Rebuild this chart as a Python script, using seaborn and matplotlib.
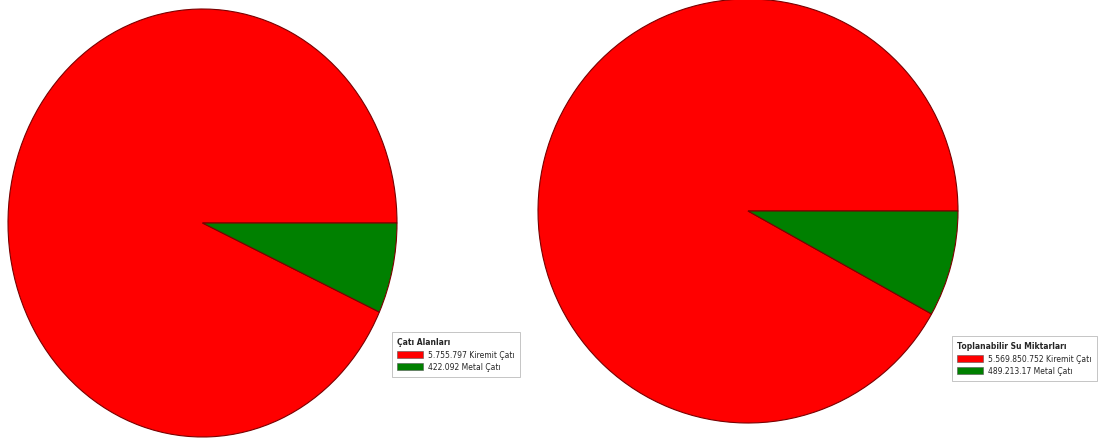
import matplotlib
matplotlib.use("Agg")
import matplotlib.pyplot as plt
import matplotlib.patches as mpatches
import seaborn as sns

sns.set_theme(style="white")
plt.rcParams['font.family'] = ['DejaVu Sans']

# data
categories = ['Kiremit Çatı', 'Metal Çatı']
roof_area = [5755797, 422092]
roof_area_labels = ['5.755.797', '422.092']
water = [5569850.752, 489213.17]
water_labels = ['5.569.850.752', '489.213.17']
colors = ['#ff0000', '#008000']

fig = plt.figure(figsize=(11.03, 4.39), dpi=100)
fig.patch.set_facecolor('white')

W, H = 1103, 439


def pie_axes(x0, x1, y0, y1):
    # pixel box (top-left origin) -> figure axes
    return fig.add_axes([x0 / W, 1 - y1 / H, (x1 - x0) / W, (y1 - y0) / H])


def draw(ax, vals, title, labels, anchor):
    ax.pie(vals, colors=colors, startangle=0, counterclock=True,
           wedgeprops=dict(edgecolor='#7a0000', linewidth=0.8))
    ax.set_aspect('auto')
    ax.set_xlim(-1.0, 1.0)
    ax.set_ylim(-1.0, 1.0)
    ax.axis('off')
    handles = [mpatches.Patch(facecolor=c, edgecolor='#555555', linewidth=0.4)
               for c in colors]
    texts = [f'{l} {c}' for l, c in zip(labels, categories)]
    leg = fig.legend(handles, texts, title=title, loc='upper left',
                     bbox_to_anchor=anchor, fontsize=5.5, title_fontsize=5.5,
                     frameon=True, fancybox=False, handlelength=3.4,
                     handleheight=1.1, borderpad=0.7, labelspacing=0.45,
                     handletextpad=0.6, borderaxespad=0, alignment='left')
    leg.get_title().set_fontweight('bold')
    leg.get_frame().set_edgecolor('#aaaaaa')
    leg.get_frame().set_linewidth(0.6)


ax1 = pie_axes(8, 397, 10, 438)
draw(ax1, roof_area, 'Çatı Alanları', roof_area_labels,
     (392 / W, 1 - 333 / H))

ax2 = pie_axes(538, 958, 0, 424)
draw(ax2, water, 'Toplanabilir Su Miktarları', water_labels,
     (952 / W, 1 - 337 / H))

fig.savefig('out.png', dpi=100, facecolor='white')
